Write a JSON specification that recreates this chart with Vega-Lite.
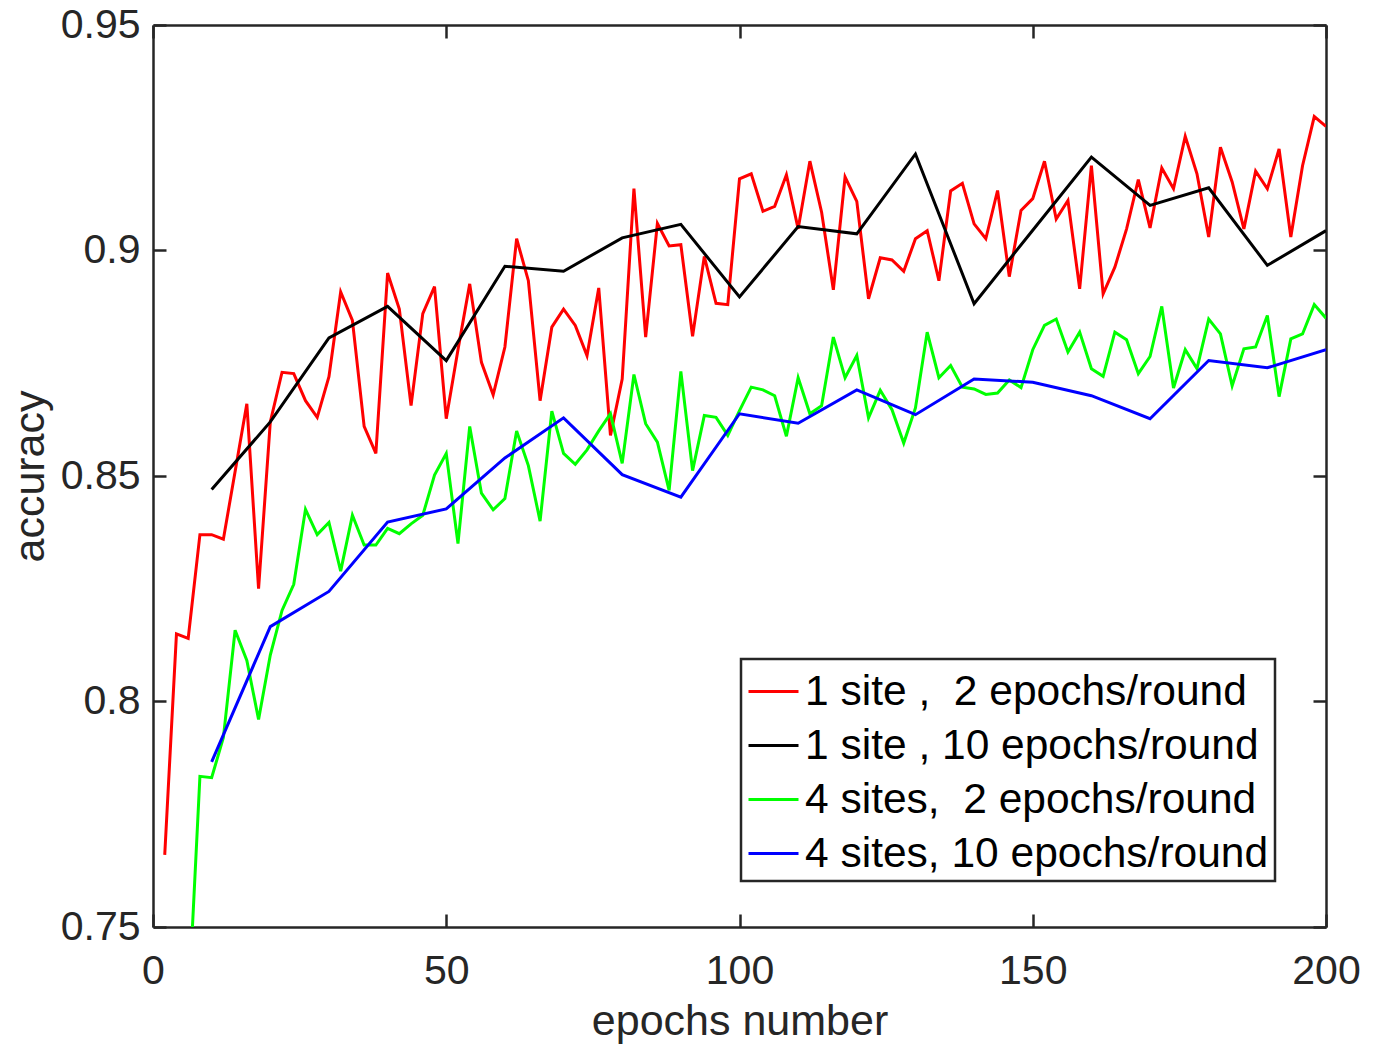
{
  "$schema": "https://vega.github.io/schema/vega-lite/v6.json",
  "width": 1173,
  "height": 902,
  "autosize": {"type": "none"},
  "padding": {"left": 153, "top": 25, "right": 62, "bottom": 119},
  "background": "white",
  "config": {
    "font": "Liberation Sans",
    "view": {"stroke": null},
    "axis": {
      "grid": false,
      "domainColor": "#262626",
      "domainWidth": 2.5,
      "tickColor": "#262626",
      "tickWidth": 2.5,
      "tickSize": -13,
      "labelColor": "#262626",
      "labelFontSize": 41,
      "labelFont": "Liberation Sans",
      "titleFont": "Liberation Sans",
      "titleFontSize": 43,
      "titleFontWeight": "normal",
      "titleColor": "#262626"
    },
    "legend": {
      "orient": "none",
      "legendX": 588,
      "legendY": 634,
      "padding": 6,
      "fillColor": "white",
      "strokeColor": "#262626",
      "strokeWidth": 2.5,
      "labelFont": "Liberation Sans",
      "labelFontSize": 42.5,
      "labelColor": "black",
      "labelLimit": 0,
      "labelOffset": 5,
      "symbolType": "stroke",
      "symbolSize": 2500,
      "symbolStrokeWidth": 3,
      "rowPadding": 6
    }
  },
  "datasets": {
    "red": [
      {"epoch": 2, "accuracy": 0.766}, {"epoch": 4, "accuracy": 0.815}, {"epoch": 6, "accuracy": 0.814}, {"epoch": 8, "accuracy": 0.837}, {"epoch": 10, "accuracy": 0.837},
      {"epoch": 12, "accuracy": 0.836}, {"epoch": 14, "accuracy": 0.851}, {"epoch": 16, "accuracy": 0.866}, {"epoch": 18, "accuracy": 0.825}, {"epoch": 20, "accuracy": 0.862},
      {"epoch": 22, "accuracy": 0.873}, {"epoch": 24, "accuracy": 0.8727}, {"epoch": 26, "accuracy": 0.8667}, {"epoch": 28, "accuracy": 0.863}, {"epoch": 30, "accuracy": 0.872},
      {"epoch": 32, "accuracy": 0.8908}, {"epoch": 34, "accuracy": 0.8845}, {"epoch": 36, "accuracy": 0.861}, {"epoch": 38, "accuracy": 0.855}, {"epoch": 40, "accuracy": 0.895},
      {"epoch": 42, "accuracy": 0.887}, {"epoch": 44, "accuracy": 0.8656}, {"epoch": 46, "accuracy": 0.886}, {"epoch": 48, "accuracy": 0.892}, {"epoch": 50, "accuracy": 0.8627},
      {"epoch": 52, "accuracy": 0.878}, {"epoch": 54, "accuracy": 0.8926}, {"epoch": 56, "accuracy": 0.8752}, {"epoch": 58, "accuracy": 0.868}, {"epoch": 60, "accuracy": 0.8786},
      {"epoch": 62, "accuracy": 0.9026}, {"epoch": 64, "accuracy": 0.8933}, {"epoch": 66, "accuracy": 0.8667}, {"epoch": 68, "accuracy": 0.883}, {"epoch": 70, "accuracy": 0.887},
      {"epoch": 72, "accuracy": 0.8834}, {"epoch": 74, "accuracy": 0.8767}, {"epoch": 76, "accuracy": 0.8917}, {"epoch": 78, "accuracy": 0.859}, {"epoch": 80, "accuracy": 0.8715},
      {"epoch": 82, "accuracy": 0.9137}, {"epoch": 84, "accuracy": 0.8808}, {"epoch": 86, "accuracy": 0.906}, {"epoch": 88, "accuracy": 0.901}, {"epoch": 90, "accuracy": 0.9013},
      {"epoch": 92, "accuracy": 0.881}, {"epoch": 94, "accuracy": 0.8987}, {"epoch": 96, "accuracy": 0.8883}, {"epoch": 98, "accuracy": 0.888}, {"epoch": 100, "accuracy": 0.9159},
      {"epoch": 102, "accuracy": 0.917}, {"epoch": 104, "accuracy": 0.9087}, {"epoch": 106, "accuracy": 0.9098}, {"epoch": 108, "accuracy": 0.9168}, {"epoch": 110, "accuracy": 0.9048},
      {"epoch": 112, "accuracy": 0.9198}, {"epoch": 114, "accuracy": 0.9085}, {"epoch": 116, "accuracy": 0.8913}, {"epoch": 118, "accuracy": 0.9163}, {"epoch": 120, "accuracy": 0.9109},
      {"epoch": 122, "accuracy": 0.8893}, {"epoch": 124, "accuracy": 0.8984}, {"epoch": 126, "accuracy": 0.8979}, {"epoch": 128, "accuracy": 0.8954}, {"epoch": 130, "accuracy": 0.9026},
      {"epoch": 132, "accuracy": 0.9044}, {"epoch": 134, "accuracy": 0.8933}, {"epoch": 136, "accuracy": 0.9132}, {"epoch": 138, "accuracy": 0.9149}, {"epoch": 140, "accuracy": 0.9059},
      {"epoch": 142, "accuracy": 0.9026}, {"epoch": 144, "accuracy": 0.9133}, {"epoch": 146, "accuracy": 0.8942}, {"epoch": 148, "accuracy": 0.9089}, {"epoch": 150, "accuracy": 0.9115},
      {"epoch": 152, "accuracy": 0.9198}, {"epoch": 154, "accuracy": 0.907}, {"epoch": 156, "accuracy": 0.9111}, {"epoch": 158, "accuracy": 0.8915}, {"epoch": 160, "accuracy": 0.9188},
      {"epoch": 162, "accuracy": 0.8904}, {"epoch": 164, "accuracy": 0.8963}, {"epoch": 166, "accuracy": 0.9048}, {"epoch": 168, "accuracy": 0.9157}, {"epoch": 170, "accuracy": 0.905},
      {"epoch": 172, "accuracy": 0.9183}, {"epoch": 174, "accuracy": 0.9137}, {"epoch": 176, "accuracy": 0.9253}, {"epoch": 178, "accuracy": 0.917}, {"epoch": 180, "accuracy": 0.903},
      {"epoch": 182, "accuracy": 0.9229}, {"epoch": 184, "accuracy": 0.9152}, {"epoch": 186, "accuracy": 0.9048}, {"epoch": 188, "accuracy": 0.9176}, {"epoch": 190, "accuracy": 0.9137},
      {"epoch": 192, "accuracy": 0.9225}, {"epoch": 194, "accuracy": 0.903}, {"epoch": 196, "accuracy": 0.9188}, {"epoch": 198, "accuracy": 0.9297}, {"epoch": 200, "accuracy": 0.9275}
    ],
    "black": [
      {"epoch": 10, "accuracy": 0.847}, {"epoch": 20, "accuracy": 0.862}, {"epoch": 30, "accuracy": 0.8806}, {"epoch": 40, "accuracy": 0.8876}, {"epoch": 50, "accuracy": 0.8756},
      {"epoch": 60, "accuracy": 0.8965}, {"epoch": 70, "accuracy": 0.8954}, {"epoch": 80, "accuracy": 0.9028}, {"epoch": 90, "accuracy": 0.9058}, {"epoch": 100, "accuracy": 0.8897},
      {"epoch": 110, "accuracy": 0.9053}, {"epoch": 120, "accuracy": 0.9037}, {"epoch": 130, "accuracy": 0.9214}, {"epoch": 140, "accuracy": 0.8882}, {"epoch": 150, "accuracy": 0.9045},
      {"epoch": 160, "accuracy": 0.9207}, {"epoch": 170, "accuracy": 0.91}, {"epoch": 180, "accuracy": 0.9139}, {"epoch": 190, "accuracy": 0.8967}, {"epoch": 200, "accuracy": 0.9044}
    ],
    "green": [
      {"epoch": 2, "accuracy": 0.68}, {"epoch": 4, "accuracy": 0.71}, {"epoch": 6, "accuracy": 0.731}, {"epoch": 8, "accuracy": 0.7834}, {"epoch": 10, "accuracy": 0.7831},
      {"epoch": 12, "accuracy": 0.792}, {"epoch": 14, "accuracy": 0.8158}, {"epoch": 16, "accuracy": 0.8091}, {"epoch": 18, "accuracy": 0.796}, {"epoch": 20, "accuracy": 0.8103},
      {"epoch": 22, "accuracy": 0.8202}, {"epoch": 24, "accuracy": 0.826}, {"epoch": 26, "accuracy": 0.8426}, {"epoch": 28, "accuracy": 0.837}, {"epoch": 30, "accuracy": 0.8397},
      {"epoch": 32, "accuracy": 0.8289}, {"epoch": 34, "accuracy": 0.8413}, {"epoch": 36, "accuracy": 0.8347}, {"epoch": 38, "accuracy": 0.8347}, {"epoch": 40, "accuracy": 0.8384},
      {"epoch": 42, "accuracy": 0.8372}, {"epoch": 44, "accuracy": 0.8394}, {"epoch": 46, "accuracy": 0.8413}, {"epoch": 48, "accuracy": 0.8502}, {"epoch": 50, "accuracy": 0.855},
      {"epoch": 52, "accuracy": 0.835}, {"epoch": 54, "accuracy": 0.861}, {"epoch": 56, "accuracy": 0.8462}, {"epoch": 58, "accuracy": 0.8425}, {"epoch": 60, "accuracy": 0.845},
      {"epoch": 62, "accuracy": 0.86}, {"epoch": 64, "accuracy": 0.8523}, {"epoch": 66, "accuracy": 0.84}, {"epoch": 68, "accuracy": 0.8644}, {"epoch": 70, "accuracy": 0.855},
      {"epoch": 72, "accuracy": 0.8526}, {"epoch": 74, "accuracy": 0.8558}, {"epoch": 76, "accuracy": 0.86}, {"epoch": 78, "accuracy": 0.8638}, {"epoch": 80, "accuracy": 0.8528},
      {"epoch": 82, "accuracy": 0.8725}, {"epoch": 84, "accuracy": 0.8616}, {"epoch": 86, "accuracy": 0.8575}, {"epoch": 88, "accuracy": 0.8468}, {"epoch": 90, "accuracy": 0.8732},
      {"epoch": 92, "accuracy": 0.8512}, {"epoch": 94, "accuracy": 0.8634}, {"epoch": 96, "accuracy": 0.863}, {"epoch": 98, "accuracy": 0.859}, {"epoch": 100, "accuracy": 0.8645},
      {"epoch": 102, "accuracy": 0.8697}, {"epoch": 104, "accuracy": 0.8691}, {"epoch": 106, "accuracy": 0.8678}, {"epoch": 108, "accuracy": 0.8588}, {"epoch": 110, "accuracy": 0.8718},
      {"epoch": 112, "accuracy": 0.8638}, {"epoch": 114, "accuracy": 0.8656}, {"epoch": 116, "accuracy": 0.8808}, {"epoch": 118, "accuracy": 0.8718}, {"epoch": 120, "accuracy": 0.8767},
      {"epoch": 122, "accuracy": 0.8629}, {"epoch": 124, "accuracy": 0.869}, {"epoch": 126, "accuracy": 0.8647}, {"epoch": 128, "accuracy": 0.8573}, {"epoch": 130, "accuracy": 0.8651},
      {"epoch": 132, "accuracy": 0.8819}, {"epoch": 134, "accuracy": 0.8718}, {"epoch": 136, "accuracy": 0.8745}, {"epoch": 138, "accuracy": 0.8697}, {"epoch": 140, "accuracy": 0.8693},
      {"epoch": 142, "accuracy": 0.8681}, {"epoch": 144, "accuracy": 0.8684}, {"epoch": 146, "accuracy": 0.8713}, {"epoch": 148, "accuracy": 0.8696}, {"epoch": 150, "accuracy": 0.878},
      {"epoch": 152, "accuracy": 0.8834}, {"epoch": 154, "accuracy": 0.8848}, {"epoch": 156, "accuracy": 0.8775}, {"epoch": 158, "accuracy": 0.8819}, {"epoch": 160, "accuracy": 0.8738},
      {"epoch": 162, "accuracy": 0.8721}, {"epoch": 164, "accuracy": 0.8819}, {"epoch": 166, "accuracy": 0.8802}, {"epoch": 168, "accuracy": 0.8727}, {"epoch": 170, "accuracy": 0.8765},
      {"epoch": 172, "accuracy": 0.8876}, {"epoch": 174, "accuracy": 0.8695}, {"epoch": 176, "accuracy": 0.878}, {"epoch": 178, "accuracy": 0.8738}, {"epoch": 180, "accuracy": 0.8848},
      {"epoch": 182, "accuracy": 0.8815}, {"epoch": 184, "accuracy": 0.87}, {"epoch": 186, "accuracy": 0.8782}, {"epoch": 188, "accuracy": 0.8786}, {"epoch": 190, "accuracy": 0.8856},
      {"epoch": 192, "accuracy": 0.8676}, {"epoch": 194, "accuracy": 0.8804}, {"epoch": 196, "accuracy": 0.8815}, {"epoch": 198, "accuracy": 0.888}, {"epoch": 200, "accuracy": 0.885}
    ],
    "blue": [
      {"epoch": 10, "accuracy": 0.7866}, {"epoch": 20, "accuracy": 0.8166}, {"epoch": 30, "accuracy": 0.8244}, {"epoch": 40, "accuracy": 0.8398}, {"epoch": 50, "accuracy": 0.8427},
      {"epoch": 60, "accuracy": 0.854}, {"epoch": 70, "accuracy": 0.8629}, {"epoch": 80, "accuracy": 0.8503}, {"epoch": 90, "accuracy": 0.8453}, {"epoch": 100, "accuracy": 0.8638},
      {"epoch": 110, "accuracy": 0.8617}, {"epoch": 120, "accuracy": 0.8691}, {"epoch": 130, "accuracy": 0.8636}, {"epoch": 140, "accuracy": 0.8715}, {"epoch": 150, "accuracy": 0.8708},
      {"epoch": 160, "accuracy": 0.8678}, {"epoch": 170, "accuracy": 0.8627}, {"epoch": 180, "accuracy": 0.8756}, {"epoch": 190, "accuracy": 0.874}, {"epoch": 200, "accuracy": 0.878}
    ]
  },
  "layer": [
    {
      "encoding": {
        "x": {
          "field": "epoch", "type": "quantitative",
          "scale": {"domain": [0, 200], "nice": false, "zero": false},
          "axis": {"orient": "bottom", "title": "epochs number", "values": [0, 50, 100, 150, 200], "labelPadding": 37, "titlePadding": 9, "labelFlush": false}
        },
        "y": {
          "field": "accuracy", "type": "quantitative",
          "scale": {"domain": [0.75, 0.95], "nice": false, "zero": false},
          "axis": {"orient": "left", "title": "accuracy", "values": [0.75, 0.8, 0.85, 0.9, 0.95], "format": ".2~f", "labelPadding": 26, "titlePadding": 8, "labelFlush": false}
        }
      },
      "layer": [
        {
          "data": {"name": "red"},
          "mark": {"type": "line", "strokeWidth": 3, "clip": true},
          "encoding": {
            "color": {
              "datum": "1 site ,\u00a0 2 epochs/round",
              "type": "nominal",
              "scale": {
                "domain": ["1 site ,\u00a0 2 epochs/round", "1 site , 10 epochs/round", "4 sites,\u00a0 2 epochs/round", "4 sites, 10 epochs/round"],
                "range": ["#FF0000", "#000000", "#00FF00", "#0000FF"]
              },
              "legend": {"title": null}
            }
          }
        },
        {
          "data": {"name": "black"},
          "mark": {"type": "line", "strokeWidth": 3, "clip": true},
          "encoding": {"color": {"datum": "1 site , 10 epochs/round", "type": "nominal"}}
        },
        {
          "data": {"name": "green"},
          "mark": {"type": "line", "strokeWidth": 3, "clip": true},
          "encoding": {"color": {"datum": "4 sites,\u00a0 2 epochs/round", "type": "nominal"}}
        },
        {
          "data": {"name": "blue"},
          "mark": {"type": "line", "strokeWidth": 3, "clip": true},
          "encoding": {"color": {"datum": "4 sites, 10 epochs/round", "type": "nominal"}}
        }
      ]
    },
    {
      "data": {"name": "black"},
      "mark": {"type": "point", "opacity": 0},
      "encoding": {
        "x": {
          "field": "epoch", "type": "quantitative",
          "scale": {"domain": [0, 200], "nice": false, "zero": false},
          "axis": {"orient": "top", "title": null, "labels": false, "values": [0, 50, 100, 150, 200]}
        },
        "y": {
          "field": "accuracy", "type": "quantitative",
          "scale": {"domain": [0.75, 0.95], "nice": false, "zero": false},
          "axis": {"orient": "right", "title": null, "labels": false, "values": [0.75, 0.8, 0.85, 0.9, 0.95]}
        }
      }
    }
  ],
  "resolve": {"axis": {"x": "independent", "y": "independent"}}
}
